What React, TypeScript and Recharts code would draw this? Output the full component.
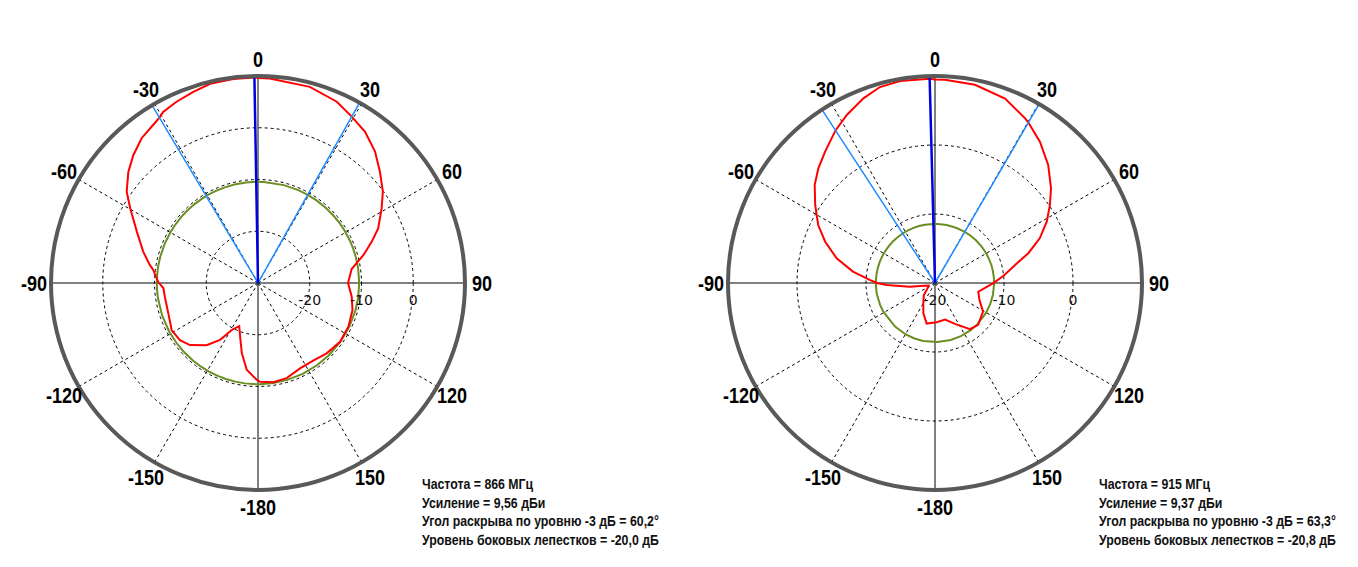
import React from 'react'
import { RadarChart, Radar, PolarGrid, PolarAngleAxis, PolarRadiusAxis } from 'recharts'

// 866 MHz: angle (deg, clockwise from 0) and gain (dBi)
const angles866 = [0, 3.3, 14.8, 23.5, 29.4, 35.3, 41.7, 47.6, 53.8, 58.9, 65.6, 70, 75.1, 81.5, 90, 98.3, 106, 115.8, 125.6, 135.7, 144.6, 153.8, 163.2, 171.2, 178.8, 180.8, 187.4, 193, 198.5, 203.5, 209.2, 213.7, 219.6, 227.6, 233.8, 241.4, 251.3, 261.6, 266.8, 270.7, 277.1, 279.5, 285.3, 292.9, 300.3, 304.8, 310.6, 315.7, 321.2, 326.7, 329.2, 331, 335.8, 341.3, 346.5, 353.1, 359]
const gain866 = [9.6, 9.6, 9.2, 8.2, 6.9, 5.8, 4.0, 1.9, -0.1, -2.1, -4.5, -6.6, -8.9, -11.7, -12.6, -11.7, -11.0, -10.6, -10.5, -11.0, -11.6, -11.6, -10.8, -10.6, -10.9, -11.3, -13.1, -16.1, -19.1, -20.9, -19.6, -16.8, -14.4, -12.2, -11.3, -11.0, -11.7, -11.8, -11.7, -10.7, -9.6, -8.8, -7.0, -4.6, -1.4, 0.9, 3.0, 4.5, 5.9, 6.7, 7.2, 7.8, 8.4, 9.0, 9.6, 9.7, 9.7]
const beam866 = [29.4, 329.2]
const mainDir866 = 359
const sideLobe866 = -10.44
const radius866 = [-30, 10]
const radiusTicks866 = [-20, -10, 0]

// 915 MHz
const angles915 = [0, 2.8, 11.4, 20.8, 28.7, 30.2, 36.6, 43.8, 50.8, 55.9, 61.2, 66.9, 72.3, 77.3, 84, 90.3, 101.4, 111, 120.7, 134.1, 142.9, 154, 164.6, 177.5, 191.6, 201, 210, 222.5, 241, 248, 258.5, 261.6, 267.6, 270, 272.6, 277.9, 284.1, 290.6, 296.4, 303, 309.2, 314.5, 320, 326.9, 332.3, 338.8, 344.3, 350.2, 358.5]
const gain915 = [9.5, 9.5, 9.3, 8.6, 7.2, 6.9, 5.5, 3.7, 1.7, 0.1, -1.5, -3.5, -5.8, -8.1, -10.0, -11.6, -13.6, -13.1, -11.9, -11.3, -11.6, -13.4, -14.5, -14.3, -14.0, -15.3, -16.6, -17.6, -18.9, -19.0, -17.8, -16.3, -13.0, -11.6, -10.6, -8.0, -5.3, -3.0, -1.1, 0.7, 2.5, 3.7, 4.8, 6.4, 7.5, 8.7, 9.5, 9.7, 9.6]
const beam915 = [30.2, 326.9]
const mainDir915 = 358.5
const sideLobe915 = -11.43
const radius915 = [-20, 10]
const radiusTicks915 = [-20, -10, 0]

const angleTicks = [0, 30, 60, 90, 120, 150, 180, 210, 240, 270, 300, 330]
// grid spokes in the library's own angle convention (0 = east, counter-clockwise)
const dashedSpokes = [30, 60, 120, 150, 210, 240, 300, 330]
const solidSpokes = [0, 90, 180, 270]

const info866 = ['Частота = 866 МГц', 'Усиление = 9,56 дБи', 'Угол раскрыва по уровню -3 дБ = 60,2°', 'Уровень боковых лепестков = -20,0 дБ']
const info915 = ['Частота = 915 МГц', 'Усиление = 9,37 дБи', 'Угол раскрыва по уровню -3 дБ = 63,3°', 'Уровень боковых лепестков = -20,8 дБ']

const BOLD_FONT = '"Liberation Sans", Arial, sans-serif'

function buildRows(angles: number[], gain: number[], beam: number[], mainDir: number, side: number, domain: number[]) {
  return angles.map((a, i) => ({
    angle: a,
    gain: gain[i],
    side,
    beam: beam.includes(a) ? domain[1] : domain[0],
    main: a === mainDir ? domain[1] : domain[0],
  }))
}

const angleTick = (props: any) => {
  const { x, y, payload } = props
  const v = payload.value
  const label = v === 180 ? '-180' : v > 180 ? String(v - 360) : String(v)
  return (
    <text transform={`translate(${x},${y}) scale(0.82,1)`} textAnchor="middle" dominantBaseline="central" fontFamily={BOLD_FONT} fontWeight={700} fontSize={22} fill="#000">
      {label}
    </text>
  )
}

const radiusTick = (props: any) => {
  const { x, y, payload } = props
  return (
    <text x={x} y={y + 22} textAnchor="middle" fontFamily="'DejaVu Sans', sans-serif" fontSize={14} fill="#111">
      {payload.value}
    </text>
  )
}

function PolarPlot({ rows, domain, ticks, info }: { rows: any[]; domain: number[]; ticks: number[]; info: string[] }) {
  return (
    <div style={{ position: 'relative', width: 679, height: 567 }}>
      <RadarChart width={679} height={567} data={rows} cx={258} cy={283} outerRadius={207} startAngle={90} endAngle={-270} margin={{ top: 0, right: 0, bottom: 0, left: 0 }}>
        <PolarGrid gridType="circle" polarAngles={dashedSpokes} stroke="#000" strokeWidth={1} strokeDasharray="3 3" />
        <PolarGrid gridType="circle" polarAngles={solidSpokes} polarRadius={[0]} stroke="#000" strokeWidth={1} />
        <PolarAngleAxis
          dataKey="angle"
          type="number"
          domain={[0, 360]}
          ticks={angleTicks}
          tick={angleTick}
          tickLine={false}
          tickSize={17}
          axisLineType="circle"
          axisLine={{ stroke: '#595959', strokeWidth: 4 }}
        />
        <PolarRadiusAxis angle={0} type="number" domain={domain} ticks={ticks} allowDataOverflow axisLine={false} tick={radiusTick} />
        <Radar dataKey="side" stroke="#6b8e23" strokeWidth={2} fill="none" fillOpacity={0} dot={false} isAnimationActive={false} />
        <Radar dataKey="gain" stroke="#ff0000" strokeWidth={2} fill="none" fillOpacity={0} dot={false} isAnimationActive={false} />
        <Radar dataKey="beam" stroke="#1e8cff" strokeWidth={1.5} fill="none" fillOpacity={0} dot={false} isAnimationActive={false} />
        <Radar dataKey="main" stroke="#0000e0" strokeWidth={2.5} fill="none" fillOpacity={0} dot={false} isAnimationActive={false} />
      </RadarChart>
      <div style={{ position: 'absolute', left: 422, top: 475, fontFamily: BOLD_FONT, fontWeight: 700, fontSize: 14, lineHeight: '18.5px', color: '#111', whiteSpace: 'nowrap', transform: 'scaleX(0.88)', transformOrigin: 'left top' }}>
        {info.map((t) => <div key={t}>{t}</div>)}
      </div>
    </div>
  )
}

export default function App() {
  const rows866 = buildRows(angles866, gain866, beam866, mainDir866, sideLobe866, radius866)
  const rows915 = buildRows(angles915, gain915, beam915, mainDir915, sideLobe915, radius915)
  return (
    <div style={{ position: 'absolute', left: 0, top: 0, width: 1358, height: 567, background: '#fff' }}>
      <div style={{ position: 'absolute', left: 0, top: 0 }}>
        <PolarPlot rows={rows866} domain={radius866} ticks={radiusTicks866} info={info866} />
      </div>
      <div style={{ position: 'absolute', left: 677, top: 0 }}>
        <PolarPlot rows={rows915} domain={radius915} ticks={radiusTicks915} info={info915} />
      </div>
    </div>
  )
}
